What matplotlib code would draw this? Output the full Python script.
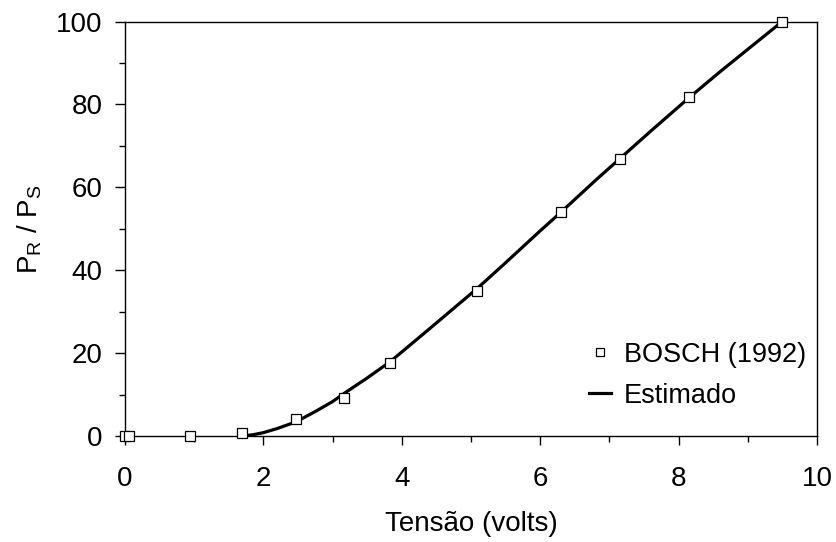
import matplotlib
matplotlib.use("Agg")
from matplotlib import pyplot as plt
from matplotlib.ticker import MultipleLocator

plt.rcParams['font.family'] = ['Liberation Sans', 'DejaVu Sans']

# measured points
tensao_bosch = [0.0, 0.06, 0.94, 1.69, 2.47, 3.16, 3.83, 5.09, 6.30, 7.15, 8.15, 9.49]
razao_bosch = [0.0, 0.0, 0.0, 0.7, 4.1, 9.2, 17.6, 35.0, 54.0, 66.9, 81.9, 99.8]

# estimated curve
tensao_est = [1.70, 1.85, 2.00, 2.20, 2.47, 2.75, 3.00, 3.16, 3.50, 3.83, 4.26, 4.58,
              5.09, 5.50, 6.00, 6.30, 6.82, 7.15, 7.60, 8.15, 8.60, 9.00, 9.49]
razao_est = [0.0, 0.3, 0.8, 1.8, 3.4, 5.9, 8.3, 10.2, 14.0, 17.9, 23.9, 28.4,
             35.6, 41.8, 49.5, 54.0, 62.0, 66.9, 73.6, 81.6, 87.9, 93.3, 99.9]

fig = plt.figure(figsize=(8.36, 5.42), dpi=100)
ax = fig.add_axes([0.1495, 0.1956, 0.8278, 0.7647])

ax.plot(tensao_bosch, razao_bosch, 's', ms=7.5, mfc='white', mec='black', mew=0.9,
        label='BOSCH (1992)', zorder=3, clip_on=False)
ax.plot(tensao_est, razao_est, '-', color='black', lw=2.3, label='Estimado', zorder=2)

ax.set_xlim(0, 10)
ax.set_ylim(0, 100)
ax.xaxis.set_major_locator(MultipleLocator(2))
ax.xaxis.set_minor_locator(MultipleLocator(1))
ax.yaxis.set_major_locator(MultipleLocator(20))
ax.yaxis.set_minor_locator(MultipleLocator(10))
ax.tick_params(which='major', direction='out', labelsize=20, width=1)
ax.tick_params(axis='x', which='major', length=6.5, pad=15)
ax.tick_params(axis='y', which='major', length=7, pad=9)
ax.tick_params(which='minor', direction='out', length=4.5, width=1)
for sp in ax.spines.values():
    sp.set_linewidth(1)

ax.set_xlabel('Tensão (volts)', fontsize=20, labelpad=14)
ax.set_ylabel(r'P$_\mathregular{R}$ / P$_\mathregular{S}$', fontsize=20, labelpad=9)

ax.legend(loc='lower right', bbox_to_anchor=(1.0, 0.04), frameon=False, fontsize=19.5,
          handlelength=0.8, handletextpad=0.5, labelspacing=0.55, markerscale=0.85,
          borderaxespad=0.0)

fig.savefig('out.png', dpi=100)
